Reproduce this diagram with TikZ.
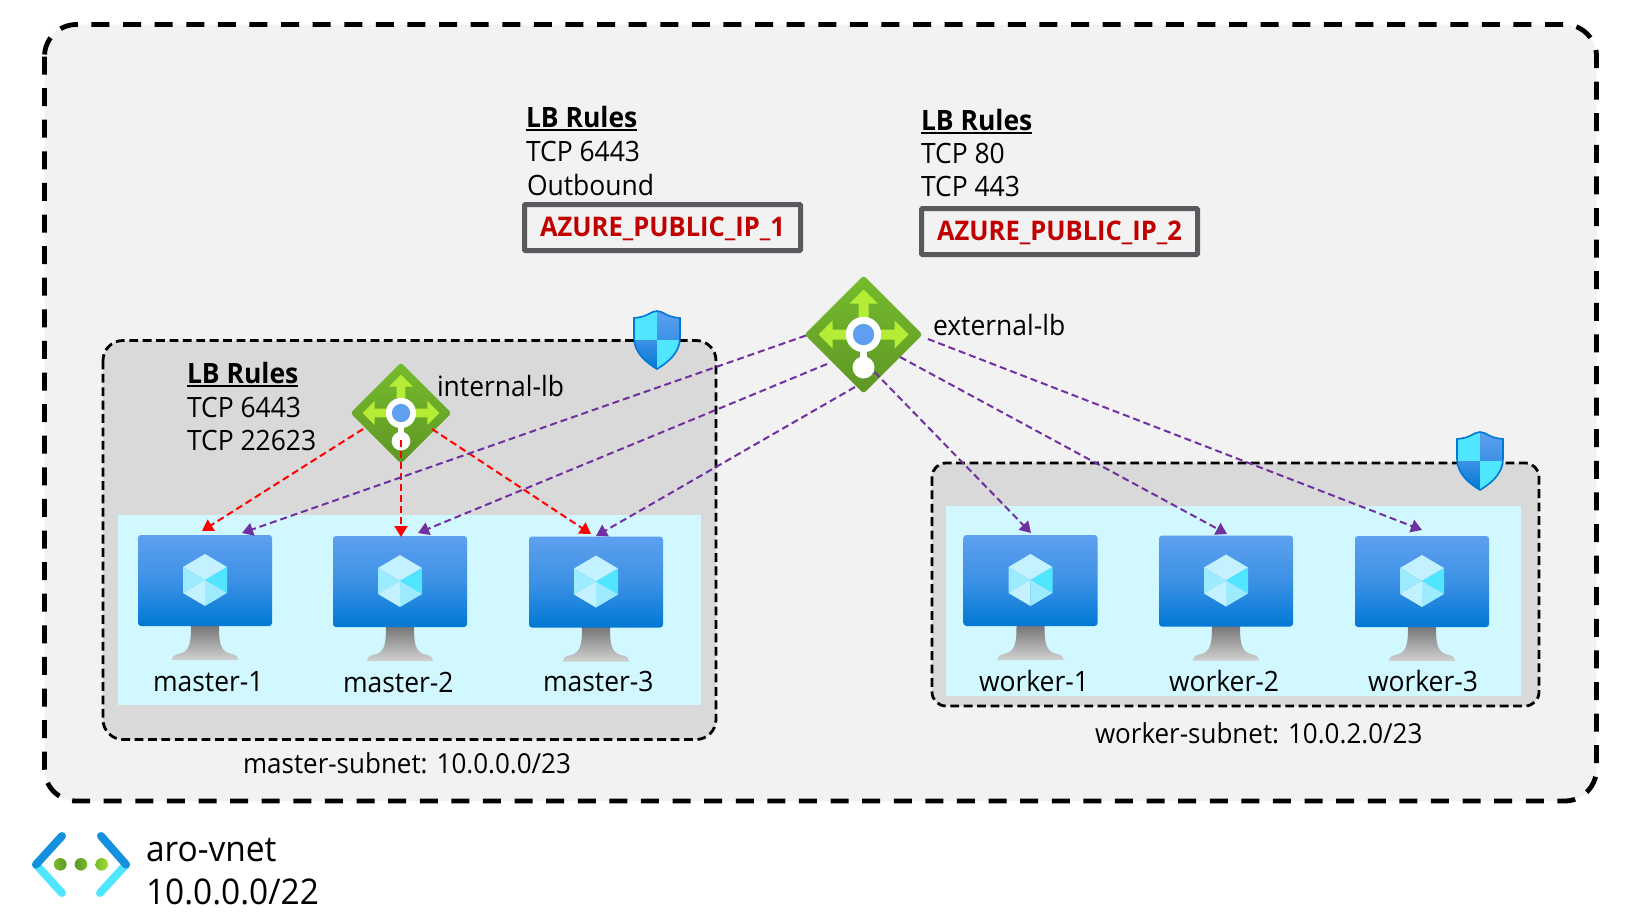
\documentclass[tikz,border=0pt]{standalone}
\usepackage{fontspec}
\setmainfont[FakeStretch=0.945]{Open Sans}
\usetikzlibrary{arrows.meta,shapes.geometric}
\definecolor{bgouter}{HTML}{F2F2F2}
\definecolor{bgsub}{HTML}{D9D9D9}
\definecolor{bgcyan}{HTML}{D1F8FF}
\definecolor{azlight}{HTML}{5EA0EF}
\definecolor{azdark}{HTML}{0078D4}
\definecolor{azmid}{HTML}{3C91E5}
\definecolor{cyanA}{HTML}{50E6FF}
\definecolor{cyanB}{HTML}{9CEBFF}
\definecolor{cyanC}{HTML}{C3F1FF}
\definecolor{lbgreenA}{HTML}{76BC2D}
\definecolor{lbgreenB}{HTML}{5E9624}
\definecolor{lbarrow}{HTML}{B4EC36}
\definecolor{boxgrey}{HTML}{59595E}
\definecolor{ipred}{HTML}{C00000}
\definecolor{flowpurple}{HTML}{7030A0}
\definecolor{flowred}{HTML}{FF0000}
\definecolor{netblue}{HTML}{1490DF}
\tikzset{
  lbl/.style={anchor=base west,inner sep=0pt,outer sep=0pt,text=black,font=\fontsize{14pt}{16pt}\selectfont},
  sublbl/.style={lbl,font=\fontsize{13.75pt}{16pt}\selectfont},
  vnetlbl/.style={lbl,font=\fontsize{17.7pt}{20pt}\selectfont},
  vmlbl/.style={lbl},
  ipbox/.style={draw=boxgrey,line width=2.5pt,rounded corners=0.5pt,fill=bgouter,inner sep=0pt,outer sep=0pt,minimum width=138pt,minimum height=23pt,text=ipred,font=\fontsize{13.5pt}{15pt}\selectfont\bfseries},
  vmscreen/.style={rounded corners=1.5pt,top color=azlight,bottom color=azdark,middle color=azmid,minimum width=67pt,minimum height=45.5pt,inner sep=0pt,outer sep=0pt},
  lbdiamond/.style={diamond,aspect=1,rounded corners=1.5pt,top color=lbgreenA,bottom color=lbgreenB,inner sep=0pt,outer sep=0pt},
  outerbox/.style={draw=black,fill=bgouter,line width=2.4pt,dash pattern=on 9pt off 6.8pt,rounded corners=16pt},
  subbox/.style={draw=black,fill=bgsub,line width=1.4pt,dash pattern=on 4.4pt off 2.3pt},
  flow/.style={line width=1pt,dash pattern=on 3.5pt off 2pt,-{Triangle[length=5.5pt,width=6.5pt]}},
  purpleflow/.style={flow,draw=flowpurple},
  redflow/.style={flow,draw=flowred},
  vnetarm/.style={line width=4pt,line cap=round}
}
\newcommand{\ulbl}[1]{\vtop{\hbox{\bfseries #1}\kern0.9pt\hrule height 1pt}}
% name, centre x, top y, label, label x, label baseline y
\newcommand{\vmicon}[6]{%
  \begin{scope}[shift={(#2,#3)}]
    \path[top color=black!54,bottom color=black!18]
      (-14,90) -- (14,90) .. controls (14,108) and (15,117) .. (27,119)
      .. controls (31,120) and (33,122) .. (33.5,125) -- (-33.5,125)
      .. controls (-33,122) and (-31,120) .. (-27,119)
      .. controls (-15,117) and (-14,108) .. (-14,90) -- cycle;
  \end{scope}
  \node[vmscreen] (#1) at (#2,#3+45.5) {};
  \begin{scope}[shift={(#2,#3+45)}]
    \fill[cyanC] (0,-26) -- (-22,-13) -- (0,0) -- (22,-13) -- cycle;
    \fill[cyanB] (-22,-13) -- (0,0) -- (-22,13) -- cycle;
    \fill[cyanA] (22,-13) -- (0,0) -- (22,13) -- cycle;
    \fill[cyanC] (-22,13) -- (0,0) -- (0,26) -- cycle;
    \fill[cyanB] (22,13) -- (0,0) -- (0,26) -- cycle;
  \end{scope}
  \node[vmlbl] (#1label) at (#5,#6) {#4};
}
% centre x, top y
\newcommand{\shieldicon}[2]{%
  \begin{scope}[shift={(#1,#2)}]
    \begin{scope}
      \clip (0,0) .. controls (-6,0) and (-9,6) .. (-23,7) -- (-23,27)
        .. controls (-23,42) and (-10,52) .. (0,58)
        .. controls (10,52) and (23,42) .. (23,27) -- (23,7)
        .. controls (9,6) and (6,0) .. (0,0) -- cycle;
      \fill[cyanA] (-24,0) rectangle (0,29);
      \path[top color=azlight,bottom color=azmid] (0,-1) rectangle (24,29);
      \path[top color=azmid,bottom color=azdark] (-24,29) rectangle (0,59);
      \fill[cyanA] (0,29) rectangle (24,59);
    \end{scope}
    \draw[azdark,line width=0.8pt] (0,0) .. controls (-6,0) and (-9,6) .. (-23,7) -- (-23,27)
        .. controls (-23,42) and (-10,52) .. (0,58)
        .. controls (10,52) and (23,42) .. (23,27) -- (23,7)
        .. controls (9,6) and (6,0) .. (0,0) -- cycle;
  \end{scope}
}
% name, centre x, centre y, full width in pt, scale
\newcommand{\lbicon}[5]{%
  \node[lbdiamond,minimum width=#4,minimum height=#4] (#1) at (#2,#3) {};
  \begin{scope}[shift={(#2,#3)},scale=#5]
    \fill[lbarrow] (0,-45) -- (14,-31) -- (5,-31) -- (5,0) -- (-5,0) -- (-5,-31) -- (-14,-31) -- cycle;
    \fill[lbarrow] (-45,0) -- (-31,-14) -- (-31,-5) -- (31,-5) -- (31,-14) -- (45,0) -- (31,14) -- (31,5) -- (-31,5) -- (-31,14) -- cycle;
    \fill[white] (-3.5,0) rectangle (3.5,33);
    \fill[white] (0,0) circle[radius=17.7];
    \fill[azlight] (0,0) circle[radius=10.7];
    \fill[white] (0,33) circle[radius=11];
  \end{scope}
}
\begin{document}
\begin{tikzpicture}[x=0.5pt,y=-0.5pt]
\useasboundingbox (0,0) rectangle (1644,922);
\fill[white] (0,0) rectangle (1644,922);
% outer vnet
\draw[outerbox] (44.5,24.5) rectangle (1596.5,801);
% subnets
\draw[subbox,rounded corners=10pt] (103,340.5) rectangle (716,739.5);
\draw[subbox,rounded corners=7pt] (932,463) rectangle (1539,706);
\fill[bgcyan] (118,515) rectangle (701,705);
\fill[bgcyan] (946,506) rectangle (1521,696);
% VMs
\vmicon{m1}{205}{535}{master-1}{153}{691}
\vmicon{m2}{400}{536}{master-2}{343}{692}
\vmicon{m3}{596}{536.5}{master-3}{543}{691}
\vmicon{w1}{1030.5}{535}{worker-1}{979}{691}
\vmicon{w2}{1226}{535.5}{worker-2}{1169}{691}
\vmicon{w3}{1422}{536}{worker-3}{1368}{691}
% shields
\shieldicon{657}{311}
\shieldicon{1480}{432}
% load balancers
\lbicon{ilb}{401}{413}{50.5pt}{0.852}
\lbicon{elb}{863.5}{334.5}{59pt}{1}
% connectors
\draw[redflow] ([shift={(-38,16)}]ilb.center) -- ([shift={(-3,-4)}]m1.north);
\draw[redflow] ([shift={(0,27)}]ilb.center) -- ([shift={(1,1)}]m2.north);
\draw[redflow] ([shift={(31,16)}]ilb.center) -- ([shift={(-5,-2.5)}]m3.north);
\draw[purpleflow] ([shift={(-57.5,1)}]elb.center) -- ([shift={(37,-2)}]m1.north);
\draw[purpleflow] ([shift={(-36.5,29.5)}]elb.center) -- ([shift={(18,-3)}]m2.north);
\draw[purpleflow] ([shift={(-8.5,52.5)}]elb.center) -- ([shift={(0,-0.5)}]m3.north);
\draw[purpleflow] ([shift={(11,37.5)}]elb.center) -- ([shift={(0.5,-2)}]w1.north);
\draw[purpleflow] ([shift={(36.5,22.5)}]elb.center) -- ([shift={(1,-1.5)}]w2.north);
\draw[purpleflow] ([shift={(64.5,4.5)}]elb.center) -- ([shift={(0,-6)}]w3.north);
% text
\node[lbl] (rulesA) at (526,127) {\ulbl{LB Rules}};
\node[lbl] (rulesAa) at (526,161) {TCP 6443};
\node[lbl] (rulesAb) at (527,195) {Outbound};
\node[ipbox] (ipA) at (662.5,227.5) {\raisebox{-4.3pt}[0pt][0pt]{AZURE\_PUBLIC\_IP\_1}};
\node[lbl] (rulesB) at (921,130) {\ulbl{LB Rules}};
\node[lbl] (rulesBa) at (921,163) {TCP 80};
\node[lbl] (rulesBb) at (921,196) {TCP 443};
\node[ipbox] (ipB) at (1059.5,231.5) {\raisebox{-4.3pt}[0pt][0pt]{AZURE\_PUBLIC\_IP\_2}};
\node[lbl] (rulesC) at (187,383) {\ulbl{LB Rules}};
\node[lbl] (rulesCa) at (187,417) {TCP 6443};
\node[lbl] (rulesCb) at (187,450) {TCP 22623};
\node[lbl] (ilblabel) at (437,396) {internal-lb};
\node[lbl] (elblabel) at (933,335) {external-lb};
\node[sublbl] (msub) at (243,773) {master-subnet: 10.0.0.0/23};
\node[sublbl] (wsub) at (1095,743) {worker-subnet: 10.0.2.0/23};
\node[vnetlbl] (vnetname) at (146,861) {aro-vnet};
\node[vnetlbl] (vnetcidr) at (146,904) {10.0.0.0/22};
% vnet icon
\draw[vnetarm,cyanA] (36,864.5) -- (62,893);
\draw[vnetarm,cyanA] (126,864.5) -- (100,893);
\draw[vnetarm,netblue] (62,836) -- (36,864.5);
\draw[vnetarm,netblue] (101,836) -- (126,864.5);
\path[left color=lbgreenA,right color=lbgreenB] (60.3,864.3) circle[radius=6.3];
\path[left color=lbgreenB,right color=lbgreenA] (81,864.3) circle[radius=6.3];
\path[left color=lbgreenA,right color=lbarrow!70!lbgreenA] (101.7,864.3) circle[radius=6.3];
\end{tikzpicture}
\end{document}
